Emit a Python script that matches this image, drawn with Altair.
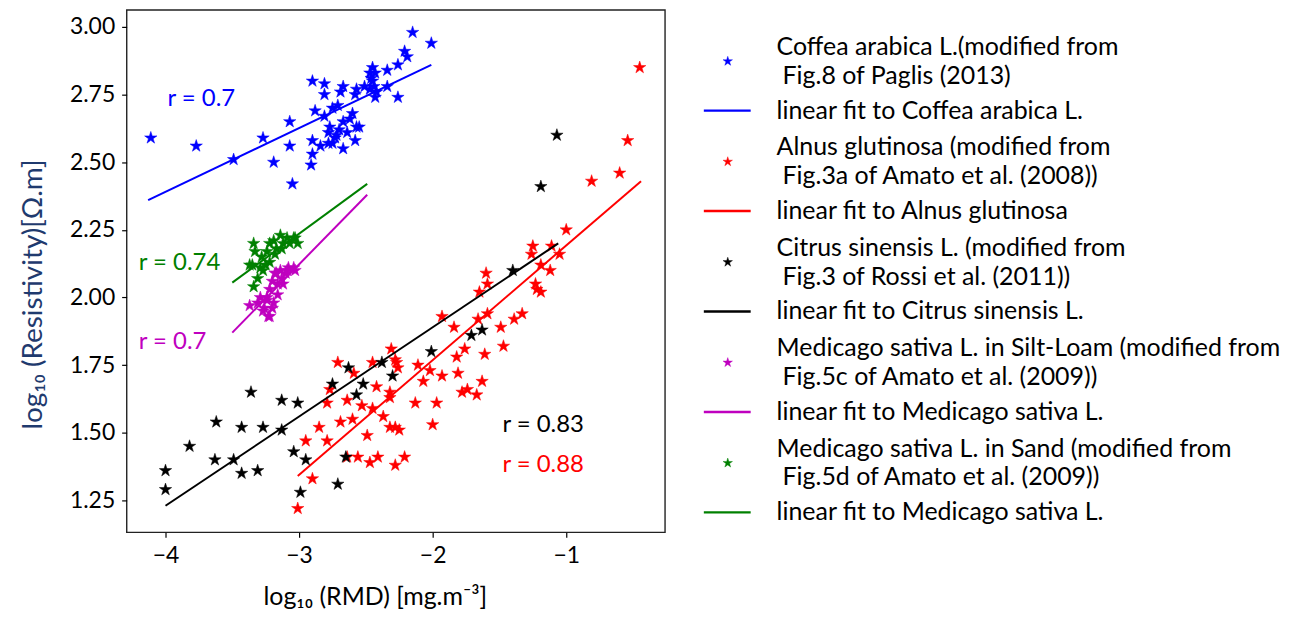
import altair as alt
import pandas as pd

# ---------------- data ----------------
coffea_x = [-4.11, -3.77, -3.49, -3.27, -3.19, -3.07, -3.07, -3.05, -2.90, -2.81, -2.81, -2.88, -2.90,
            -2.90, -2.91, -2.84, -2.81, -2.77, -2.75, -2.75, -2.72, -2.71, -2.69, -2.67, -2.67, -2.67,
            -2.64, -2.60, -2.58, -2.57, -2.55, -2.58, -2.57, -2.51, -2.47, -2.47, -2.45, -2.43, -2.45,
            -2.42, -2.43, -2.34, -2.34, -2.26, -2.26, -2.21, -2.19, -2.15, -2.01, -2.73, -2.78, -2.70,
            -2.46, -2.44, -2.62, -2.78]
coffea_y = [2.59, 2.56, 2.51, 2.59, 2.50, 2.65, 2.56, 2.42, 2.80, 2.79, 2.75, 2.69, 2.58,
            2.53, 2.49, 2.56, 2.67, 2.63, 2.70, 2.57, 2.60, 2.71, 2.76, 2.78, 2.55, 2.65,
            2.61, 2.68, 2.58, 2.63, 2.63, 2.75, 2.77, 2.78, 2.77, 2.83, 2.85, 2.83, 2.80,
            2.76, 2.74, 2.84, 2.78, 2.74, 2.86, 2.91, 2.89, 2.98, 2.94, 2.59, 2.61, 2.62,
            2.81, 2.78, 2.66, 2.57]

alnus_x = [-3.01, -2.90, -2.95, -2.85, -2.79, -2.79, -2.77, -2.71, -2.69, -2.64, -2.64, -2.60, -2.59,
           -2.56, -2.53, -2.49, -2.47, -2.45, -2.42, -2.41, -2.37, -2.45, -2.32, -2.31, -2.32, -2.28,
           -2.27, -2.21, -2.28, -2.25, -2.32, -2.28, -2.26, -2.13, -2.00, -2.11, -2.07, -2.02, -1.97,
           -1.93, -1.93, -1.84, -1.82, -1.81, -1.78, -1.74, -1.76, -1.67, -1.66, -1.63, -1.61, -1.59,
           -1.65, -1.59, -1.60, -1.49, -1.47, -1.39, -1.33, -1.25, -1.26, -1.23, -1.22, -1.11, -1.05,
           -1.19, -1.12, -1.19, -1.00, -0.81, -0.60, -0.54, -0.45]
alnus_y = [1.22, 1.33, 1.47, 1.52, 1.47, 1.61, 1.66, 1.76, 1.54, 1.62, 1.41, 1.55, 1.72,
           1.41, 1.60, 1.49, 1.39, 1.59, 1.67, 1.41, 1.56, 1.76, 1.63, 1.81, 1.52, 1.38,
           1.76, 1.41, 1.52, 1.51, 1.65, 1.77, 1.74, 1.61, 1.53, 1.75, 1.69, 1.73, 1.61,
           1.71, 1.93, 1.89, 1.78, 1.72, 1.65, 1.66, 1.81, 1.64, 1.92, 1.69, 1.79, 1.94,
           2.02, 2.05, 2.09, 1.89, 1.82, 1.92, 1.94, 2.19, 2.16, 2.05, 2.03, 2.19, 2.16,
           2.12, 2.10, 2.02, 2.25, 2.43, 2.46, 2.58, 2.85]

citrus_x = [-4.00, -4.00, -3.82, -3.62, -3.63, -3.49, -3.43, -3.43, -3.36, -3.31, -3.27, -3.13, -3.13,
            -3.01, -3.04, -2.95, -2.99, -2.71, -2.75, -2.65, -2.63, -2.57, -2.52, -2.38, -2.30, -2.01,
            -1.71, -1.63, -1.40, -1.19, -1.07]
citrus_y = [1.36, 1.29, 1.45, 1.54, 1.40, 1.40, 1.52, 1.35, 1.65, 1.36, 1.52, 1.62, 1.51,
            1.61, 1.43, 1.40, 1.28, 1.31, 1.68, 1.41, 1.74, 1.64, 1.68, 1.76, 1.71, 1.80,
            1.86, 1.88, 2.10, 2.41, 2.60]

silt_x = [-3.37, -3.31, -3.27, -3.23, -3.24, -3.22, -3.20, -3.19, -3.18, -3.16, -3.14, -3.10, -3.08,
          -3.03, -3.16, -3.29, -3.13, -3.20, -3.22, -3.24, -3.17, -3.09, -3.04, -3.26, -3.12]
silt_y = [1.97, 1.98, 1.95, 1.93, 2.00, 2.03, 2.06, 1.98, 2.09, 2.05, 2.10, 2.09, 2.11,
          2.10, 2.01, 2.00, 2.07, 1.96, 1.93, 1.99, 2.09, 2.10, 2.11, 1.96, 2.05]

sand_x = [-3.34, -3.33, -3.37, -3.34, -3.29, -3.25, -3.24, -3.22, -3.19, -3.17, -3.14, -3.12, -3.09,
          -3.07, -3.03, -3.18, -3.28, -3.13, -3.31, -3.35, -3.01, -3.04, -3.27, -3.22]
sand_y = [2.20, 2.17, 2.12, 2.04, 2.11, 2.12, 2.17, 2.20, 2.21, 2.18, 2.23, 2.20, 2.22,
          2.20, 2.22, 2.16, 2.15, 2.18, 2.07, 2.12, 2.20, 2.22, 2.10, 2.13]

# linear-fit end points (x0, x1), (y0, y1)
coffea_fit_x = [-4.13, -2.01]
coffea_fit_y = [2.36, 2.86]
alnus_fit_x = [-3.01, -0.44]
alnus_fit_y = [1.34, 2.43]
citrus_fit_x = [-4.00, -1.06]
citrus_fit_y = [1.23, 2.20]
silt_fit_x = [-3.50, -2.49]
silt_fit_y = [1.87, 2.38]
sand_fit_x = [-3.50, -2.49]
sand_fit_y = [2.055, 2.42]

colors = ["#0000ff", "#ff0000", "#000000", "#bf00bf", "#008000"]
r_texts = ["r = 0.7", "r = 0.88", "r = 0.83", "r = 0.7", "r = 0.74"]
r_x = [-3.985, -1.478, -1.478, -4.20, -4.20]
r_y = [2.732, 1.382, 1.529, 1.835, 2.129]

legend_first = ["Coffea arabica L.(modified from", "linear fit to Coffea arabica L.",
                "Alnus glutinosa (modified from", "linear fit to Alnus glutinosa",
                "Citrus sinensis L. (modified from", "linear fit to Citrus sinensis L.",
                "Medicago sativa L. in Silt-Loam (modified from", "linear fit to Medicago sativa L.",
                "Medicago sativa L. in Sand (modified from", "linear fit to Medicago sativa L."]
legend_second = ["Fig.8 of Paglis (2013)", "",
                 "Fig.3a of Amato et al. (2008))", "",
                 "Fig.3 of Rossi et al. (2011))", "",
                 "Fig.5c of Amato et al. (2009))", "",
                 "Fig.5d of Amato et al. (2009))", ""]

x_ticks = [-4, -3, -2, -1]
y_ticks = [1.25, 1.5, 1.75, 2.0, 2.25, 2.5, 2.75, 3.0]

# ---------------- styling / layout ----------------
FONT = "Lato"
STAR = ("M0,-1L-0.2245,-0.309L-0.951,-0.309L-0.363,0.118L-0.588,0.809L0,0.382"
        "L0.588,0.809L0.363,0.118L0.951,-0.309L0.2245,-0.309Z")
W, H = 540, 524
LW, LH = 604, 524

xs = alt.Scale(domain=[-4.291, -0.261], nice=False, zero=False)
ys = alt.Scale(domain=[1.132, 3.063], nice=False, zero=False)
xaxis = alt.Axis(title="log₁₀ (RMD) [mg.m⁻³]", values=x_ticks, format=".0f", labelPadding=7,
                 titleX=249, titleY=64, titleBaseline="middle", titleFontSize=25)
yaxis = alt.Axis(title="log₁₀ (Resistivity)[Ω.m]", values=y_ticks, format=".2f", labelPadding=7,
                 titleX=-93, titleY=285, titleBaseline="middle", titleFontSize=28,
                 titleColor="#1f3a6e")

series = [
    (coffea_x, coffea_y, coffea_fit_x, coffea_fit_y),
    (alnus_x, alnus_y, alnus_fit_x, alnus_fit_y),
    (citrus_x, citrus_y, citrus_fit_x, citrus_fit_y),
    (silt_x, silt_y, silt_fit_x, silt_fit_y),
    (sand_x, sand_y, sand_fit_x, sand_fit_y),
]

layers = []
for (px, py, fx, fy), col in zip(series, colors):
    pts = alt.Chart(pd.DataFrame({"x": px, "y": py})).mark_point(
        shape=STAR, filled=True, size=170, color=col, stroke=col, strokeWidth=0.5, opacity=1
    ).encode(x=alt.X("x:Q", scale=xs, axis=xaxis), y=alt.Y("y:Q", scale=ys, axis=yaxis))
    fit = alt.Chart(pd.DataFrame({"x": fx, "y": fy})).mark_line(
        color=col, strokeWidth=2
    ).encode(x=alt.X("x:Q", scale=xs, axis=xaxis), y=alt.Y("y:Q", scale=ys, axis=yaxis))
    layers += [pts, fit]

rdf = pd.DataFrame({"x": r_x, "y": r_y, "t": r_texts, "c": colors})
rlab = alt.Chart(rdf).mark_text(align="left", baseline="middle", fontSize=24, font=FONT).encode(
    x=alt.X("x:Q", scale=xs, axis=xaxis), y=alt.Y("y:Q", scale=ys, axis=yaxis),
    text="t:N", color=alt.Color("c:N", scale=None))
layers.append(rlab)

main = alt.layer(*layers).properties(width=W, height=H)

# ---------------- legend panel (layout computed from entry index) ----------------
leg_colors = [c for c in colors for _ in range(2)]
rows_sym, rows_txt = [], []
for i, (t1, t2) in enumerate(zip(legend_first, legend_second)):
    p = i // 2
    base = 37 + 100.75 * p
    if i % 2 == 0:
        rows_sym.append({"kind": "star", "x": 41, "x2": 41, "y": base + 14.5, "c": leg_colors[i]})
        rows_txt.append({"x": 90, "y": base, "t": t1})
        rows_txt.append({"x": 96, "y": base + 29, "t": t2})
    else:
        rows_sym.append({"kind": "line", "x": 17, "x2": 64, "y": base + 64, "c": leg_colors[i]})
        rows_txt.append({"x": 90, "y": base + 64, "t": t1})
sym = pd.DataFrame(rows_sym)
txt = pd.DataFrame(rows_txt)
lxs = alt.Scale(domain=[0, LW], range=[0, LW])
lys = alt.Scale(domain=[0, LH], range=[0, LH])

leg_star = alt.Chart(sym[sym.kind == "star"]).mark_point(
    shape=STAR, filled=True, size=100, opacity=1, strokeWidth=0.4
).encode(x=alt.X("x:Q", scale=lxs, axis=None), y=alt.Y("y:Q", scale=lys, axis=None),
         color=alt.Color("c:N", scale=None), stroke=alt.Stroke("c:N", scale=None))
leg_line = alt.Chart(sym[sym.kind == "line"]).mark_rule(strokeWidth=2.4).encode(
    x=alt.X("x:Q", scale=lxs, axis=None), x2="x2:Q", y=alt.Y("y:Q", scale=lys, axis=None),
    color=alt.Color("c:N", scale=None))
leg_text = alt.Chart(txt).mark_text(align="left", baseline="middle", fontSize=25, font=FONT,
                                    color="black").encode(
    x=alt.X("x:Q", scale=lxs, axis=None), y=alt.Y("y:Q", scale=lys, axis=None), text="t:N")
legend = alt.layer(leg_line, leg_star, leg_text).properties(
    width=LW, height=LH, view=alt.ViewBackground(stroke="transparent"))

chart = alt.hconcat(main, legend, spacing=20).properties(
    padding={"left": 11, "top": 0, "right": 0, "bottom": 0}
).configure(font=FONT).configure_view(stroke="#222222", strokeWidth=1.4).configure_axis(
    grid=False, domain=False, tickColor="black", tickSize=5, tickWidth=1.2,
    labelFont=FONT, labelFontSize=23, labelColor="black",
    titleFont=FONT, titleFontWeight="normal", titleColor="black")

chart.save("out.html", embed_options={"renderer": "svg", "actions": False})
